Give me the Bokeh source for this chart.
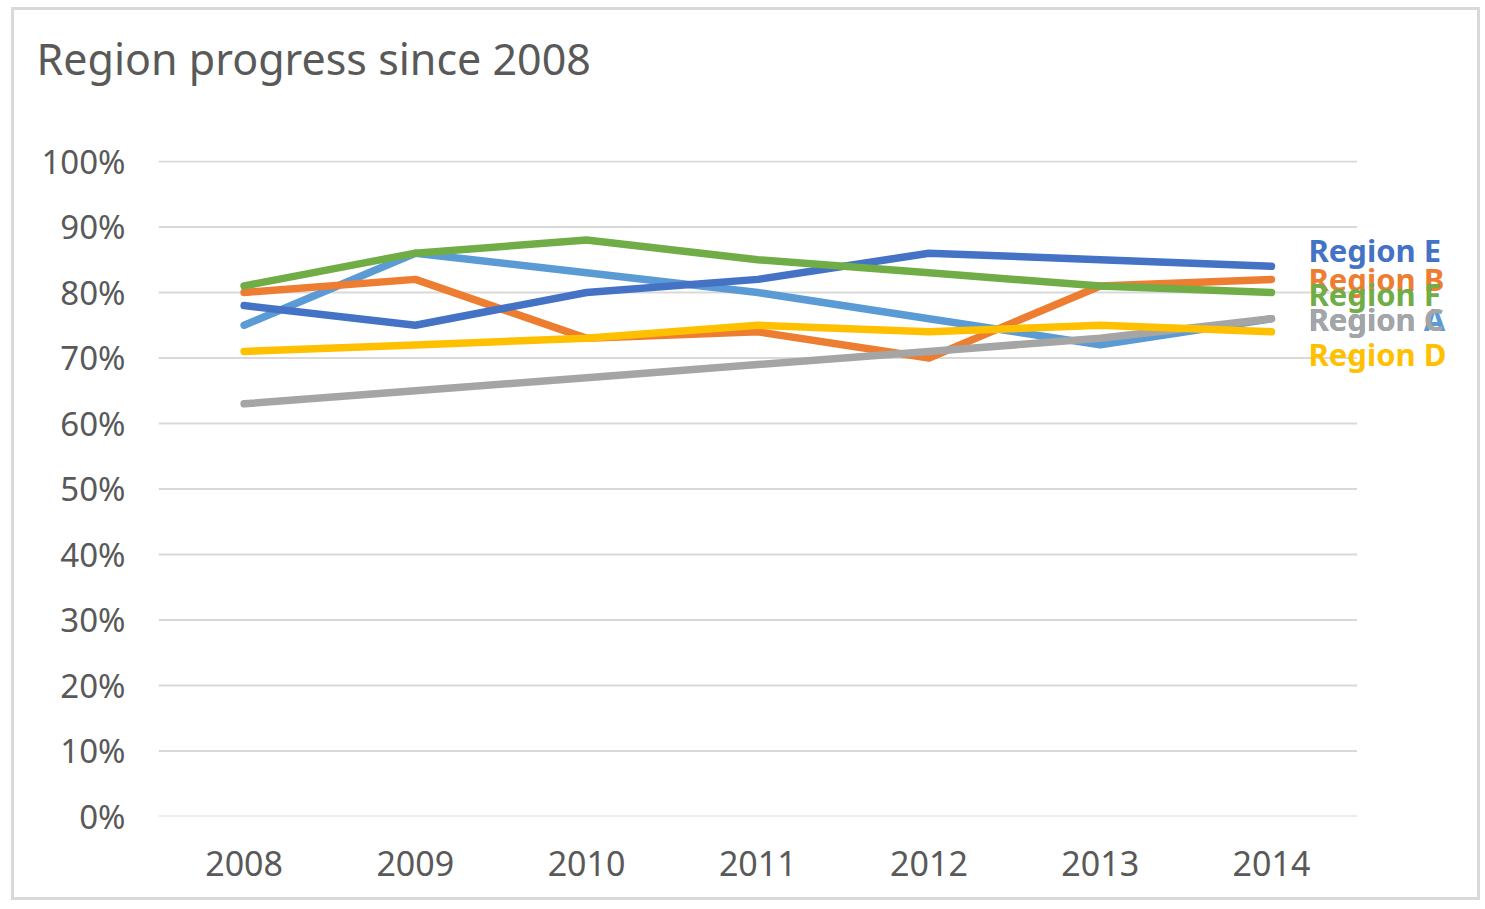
from bokeh.plotting import figure
from bokeh.models import FixedTicker, PrintfTickFormatter, Label, Range1d, Title
from bokeh.embed import file_html
from bokeh.resources import INLINE

years = [2008, 2009, 2010, 2011, 2012, 2013, 2014]
region_a = [75, 86, 83, 80, 76, 72, 76]
region_b = [80, 82, 73, 74, 70, 81, 82]
region_c = [63, 65, 67, 69, 71, 73, 76]
region_d = [71, 72, 73, 75, 74, 75, 74]
region_e = [78, 75, 80, 82, 86, 85, 84]
region_f = [81, 86, 88, 85, 83, 81, 80]

names = ["Region A", "Region B", "Region C", "Region D", "Region E", "Region F"]
series = [region_a, region_b, region_c, region_d, region_e, region_f]
colors = ["#5B9BD5", "#ED7D31", "#A5A5A5", "#FFC000", "#4472C4", "#70AD47"]
label_dy = [0, 0, 0, -22, 16, -2]
y_ticks = list(range(0, 101, 10))
title_text = "Region progress since 2008"

FONT = "Noto Sans"
TXT = "#595959"

x_lo = years[0] - 0.5
x_hi = years[-1] + 0.5

p = figure(width=1469, height=893, output_backend="svg", toolbar_location=None,
           x_range=Range1d(x_lo, 2015.11), y_range=Range1d(0, 100.15),
           min_border_left=144, min_border_right=22, min_border_top=150,
           min_border_bottom=87)
p.margin = (7, 0, 0, 11)
p.styles = {"border": "3px solid #d9d9d9", "box-sizing": "border-box"}
p.background_fill_color = "white"
p.border_fill_color = "white"
p.outline_line_color = None

p.title.text = title_text
p.title.text_font = FONT
p.title.text_font_size = "43px"
p.title.text_font_style = "normal"
p.title.text_color = TXT
p.title.align = "left"
p.title.offset = -122
p.title.standoff = 0

# empty spacer between title and plot area
p.add_layout(Title(text=" ", text_font_size="10px", standoff=60), "above")

p.xaxis.ticker = FixedTicker(ticks=years)
p.yaxis.ticker = FixedTicker(ticks=y_ticks)
p.yaxis.formatter = PrintfTickFormatter(format="%d%%")
for ax in (p.xaxis, p.yaxis):
    ax.major_tick_line_color = None
    ax.minor_tick_line_color = None
    ax.axis_line_color = None
    ax.major_label_text_font = FONT
    ax.major_label_text_color = TXT
p.yaxis.major_label_text_font_size = "33px"
p.xaxis.major_label_text_font_size = "34px"
p.yaxis.major_label_standoff = 27
p.xaxis.major_label_standoff = 28

p.xgrid.grid_line_color = None
p.ygrid.grid_line_color = None

p.segment(x0=[x_lo] * len(y_ticks), x1=[x_hi] * len(y_ticks), y0=y_ticks, y1=y_ticks,
          line_color="#d9d9d9", line_width=2)

for name, vals, col in zip(names, series, colors):
    p.line(years, vals, line_color=col, line_width=7.5, line_cap="round", line_join="round")

for name, vals, col, dy in zip(names, series, colors, label_dy):
    p.add_layout(Label(x=years[-1], y=vals[-1], x_offset=37, y_offset=dy, text=name,
                       text_color=col, text_font=FONT, text_font_size="31px",
                       text_font_style="bold", text_baseline="middle", text_align="left"))

open("out.html", "w").write(file_html(p, INLINE))
